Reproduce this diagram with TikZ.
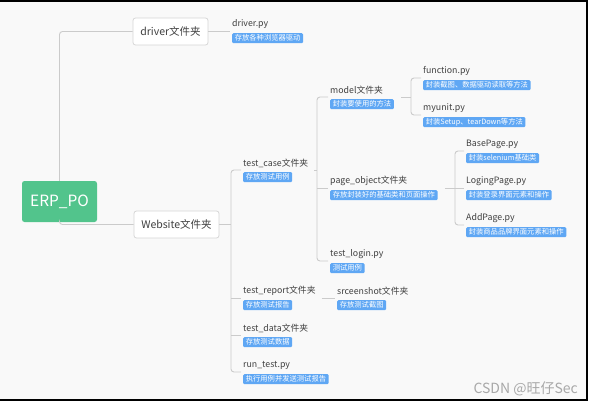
\documentclass[tikz,border=0pt]{standalone}
\usepackage{fontspec}
\setmainfont{Noto Sans CJK SC}
\usetikzlibrary{calc}
\definecolor{bgc}{HTML}{F9F9F9}
\definecolor{linec}{HTML}{CBCBCB}
\definecolor{boxc}{HTML}{D6D6D6}
\definecolor{tagc}{HTML}{5FA7F4}
\definecolor{greenc}{HTML}{52C48C}
\definecolor{txtc}{HTML}{404040}
\definecolor{wmc}{HTML}{A8A8A8}
\newcommand\leafnode[5]{%
  \node[lbl] (#1) at (#2,#3) {#4};
  \node[tagbox] (#1t) at (#2,#3+9) {#5};
  \coordinate (#1a) at (#2-2,#3+7);}
\begin{document}
\begin{tikzpicture}[x=1pt,y=-1pt,
  conn/.style={draw=linec, line width=0.9pt, rounded corners=3pt},
  lbl/.style={anchor=west, inner sep=0pt, text=txtc, font=\fontsize{8.8}{10}\selectfont},
  tagbox/.style={anchor=north west, fill=tagc, text=white, rounded corners=1.2pt,
    inner xsep=2.6pt, inner ysep=0pt, minimum height=10pt, font=\fontsize{7.3}{8}\selectfont},
  folder/.style={draw=boxc, fill=white, rounded corners=2.5pt, line width=0.8pt,
    text=txtc, font=\fontsize{10.5}{12}\selectfont, minimum height=27pt, inner sep=0pt},
  root/.style={fill=greenc, rounded corners=2.5pt, text=white,
    font=\fontsize{15.5}{17}\selectfont, minimum width=75pt, minimum height=41pt, inner sep=0pt},
  wmark/.style={anchor=east, inner sep=0pt, text=wmc, font=\fontsize{14}{16}\selectfont}]
\path[use as bounding box] (0,0) rectangle (593,405);
\fill[white] (0,0) rectangle (593,405);
\fill[bgc] (0,1) rectangle (587,400);
\draw[black, line width=1.2pt] (0,1) -- (587,1) -- (587,400) -- (0,400);

% main nodes
\node[root] (erp) at (59.5,201.5) {ERP\_PO};
\node[folder, minimum width=75pt] (driver) at (170.5,31.5) {driver文件夹};
\node[folder, minimum width=85pt] (website) at (176.5,224.5) {Website文件夹};

% leaves
\leafnode{driverpy}{232}{24}{driver.py}{存放各种浏览器驱动}
\leafnode{testcase}{243}{163}{test\_case文件夹}{存放测试用例}
\leafnode{testreport}{243}{291}{test\_report文件夹}{存放测试报告}
\leafnode{testdata}{243}{328}{test\_data文件夹}{存放测试数据}
\leafnode{runtest}{243}{365}{run\_test.py}{执行用例并发送测试报告}
\leafnode{model}{330}{90}{model文件夹}{封装要使用的方法}
\leafnode{pageobj}{330}{181}{page\_object文件夹}{存放封装好的基础类和页面操作}
\leafnode{testlogin}{330}{254}{test\_login.py}{测试用例}
\leafnode{screenshot}{337}{291}{srceenshot文件夹}{存放测试截图}
\leafnode{function}{423}{71}{function.py}{封装截图、数据驱动读取等方法}
\leafnode{myunit}{423}{108}{myunit.py}{封装Setup、tearDown等方法}
\leafnode{basepage}{466}{144}{BasePage.py}{封装selenium基础类}
\leafnode{loging}{466}{181}{LogingPage.py}{封装登录界面元素和操作}
\leafnode{addpage}{466}{218}{AddPage.py}{封装商品品牌界面元素和操作}

% trunk coordinates
\coordinate (wtr) at (231,224.5);
\coordinate (tctr) at (317,170);
\coordinate (mtr) at (411,97);
\coordinate (potr) at (455,188);

% connectors
\draw[conn] (driver.west) -| (erp.north);
\draw[conn] (erp.south) |- (website.west);
\draw[conn] (driver.east) -- (driverpya |- driver.east);

\draw[conn] (website.east) -- (wtr);
\draw[conn] (testcasea) -| (wtr) |- (runtesta);
\draw[conn] (wtr |- testreporta) -- (testreporta);
\draw[conn] (wtr |- testdataa) -- (testdataa);

\draw[conn] ($(testcase.east |- testcasea)+(6,0)$) -- (tctr);
\draw[conn] (modela) -| (tctr) |- (testlogina);
\draw[conn] (tctr |- pageobja) -- (pageobja);

\draw[conn] ($(modelt.east |- mtr)+(7,0)$) -- (mtr);
\draw[conn] (functiona) -| (mtr) |- (myunita);

\draw[conn] ($(pageobjt.east |- potr)+(7,0)$) -- (potr);
\draw[conn] (basepagea) -| (potr) |- (addpagea);
\draw[conn] (potr) -- (loginga);

\draw[conn] ($(testreport.east |- testreporta)+(6,0)$) -- (screenshota);

\node[wmark] (wm) at (578,389) {CSDN @旺仔Sec};
\end{tikzpicture}
\end{document}
